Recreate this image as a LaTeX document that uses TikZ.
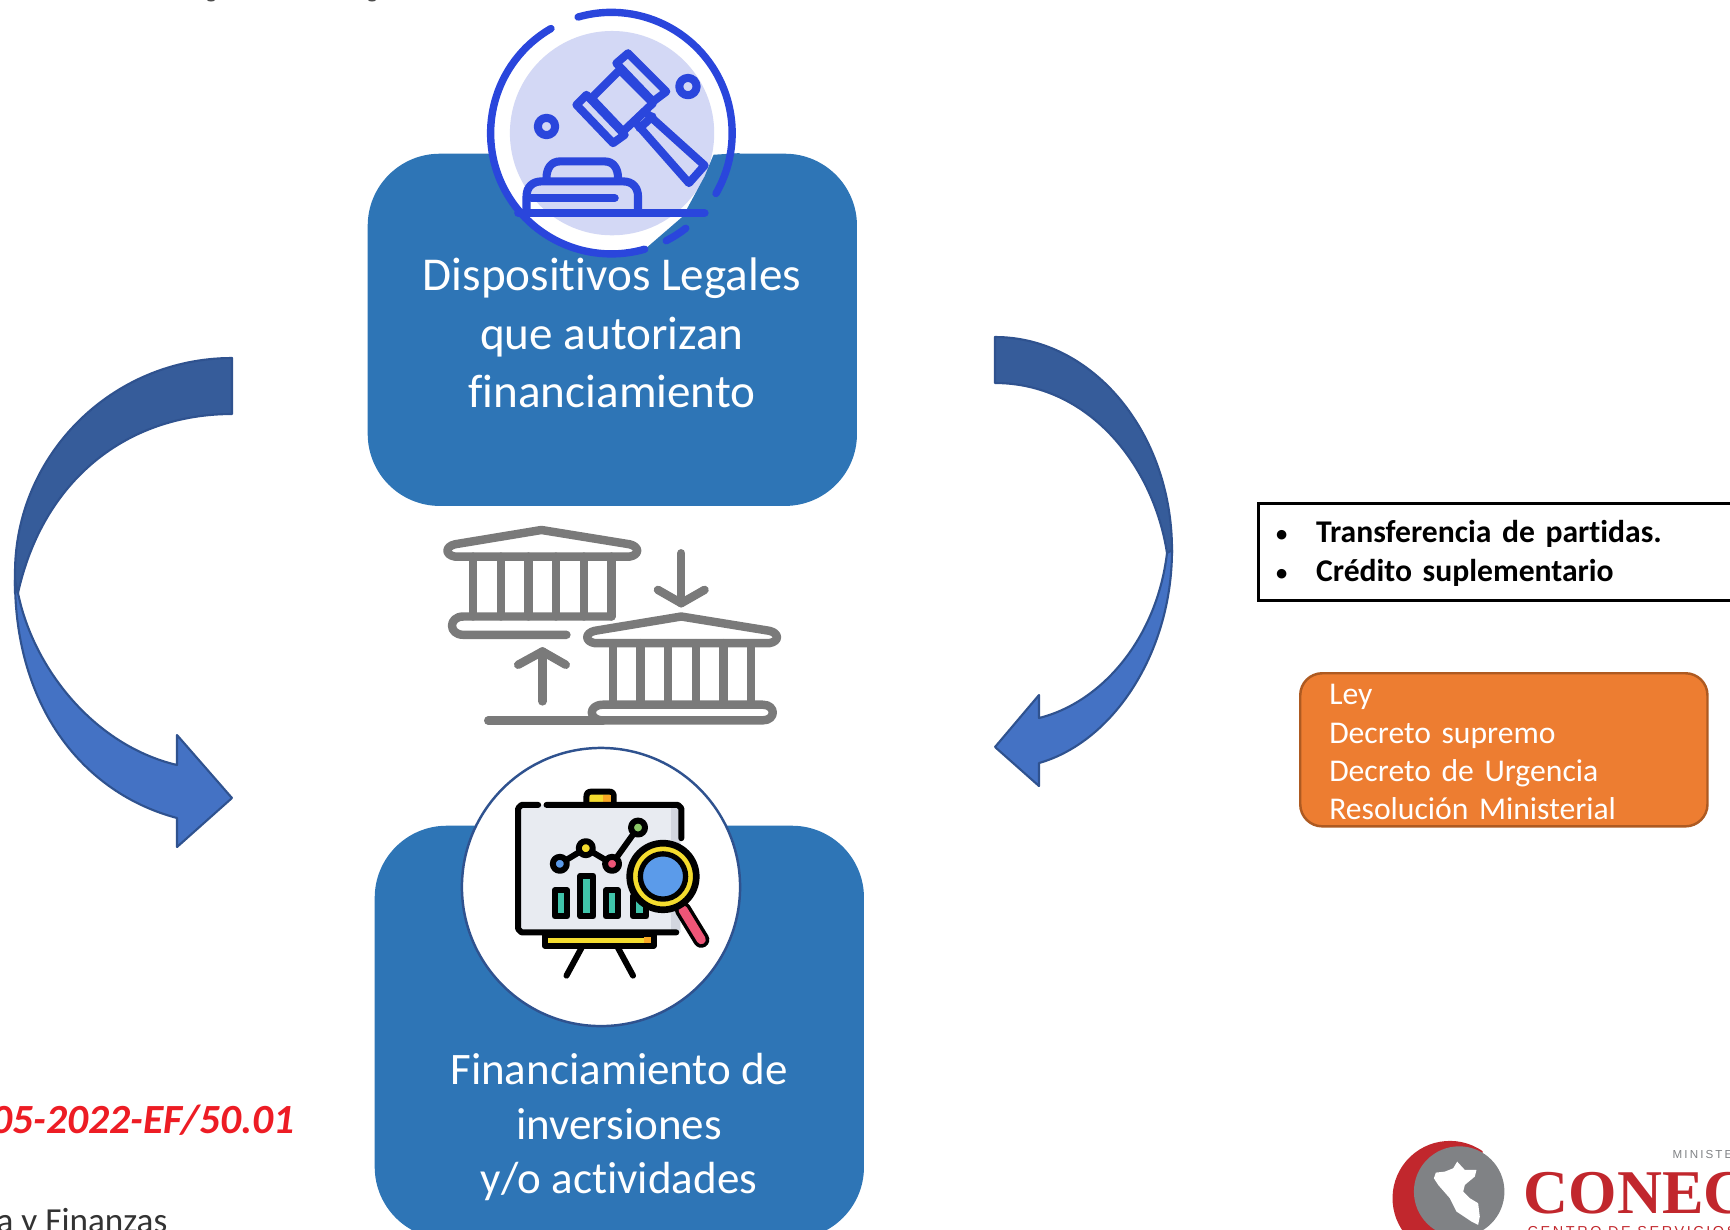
\documentclass[tikz,border=0pt]{standalone}
\usepackage{fontspec}
\setmainfont[Ligatures=NoCommon]{Carlito}
\newfontfamily\logoserif{Liberation Serif}
\newfontfamily\logosans[LetterSpace=18]{Liberation Sans}
\usetikzlibrary{positioning}

\definecolor{cajaazul}{HTML}{2E75B6}
\definecolor{flechaosc}{HTML}{365C9A}
\definecolor{flechacla}{HTML}{4472C4}
\definecolor{flechaborde}{HTML}{2F528F}
\definecolor{naranja}{HTML}{ED7D31}
\definecolor{naranjaborde}{HTML}{AE5A21}
\definecolor{mazoazul}{HTML}{2A46DC}
\definecolor{mazofondo}{HTML}{D3D8F5}
\definecolor{gris}{HTML}{7A7A7A}
\definecolor{rojologo}{HTML}{C1272D}
\definecolor{grislogo}{HTML}{808285}
\definecolor{rojonota}{HTML}{ED1C24}
\definecolor{amarillo}{HTML}{F4DC2E}
\definecolor{ambar}{HTML}{F9A825}
\definecolor{verdeazul}{HTML}{40C4AA}
\definecolor{rosa}{HTML}{EE5577}
\definecolor{lupa}{HTML}{5B9BEA}
\definecolor{pizarra}{HTML}{E8EBF1}
\definecolor{pizarrasom}{HTML}{D3D6DF}
\definecolor{verdepunto}{HTML}{8BC766}

\newcommand{\vineta}{\makebox[0.40cm][l]{\raisebox{0.3pt}{\fontsize{6.4}{11}\selectfont •}}}
\newcommand{\primera}{\rule{0pt}{7.1pt}}

\begin{document}
\begin{tikzpicture}[
    x=0.01cm, y=-0.01cm,
    caja/.style={
        rectangle,
        rounded corners=0.72cm,
        minimum width=4.89cm,
        fill=cajaazul
    },
    cajatexto/.style={
        text=white,
        align=center,
        font=\fontsize{13.4}{16.7}\selectfont
    },
    lista/.style={
        rectangle,
        draw=black,
        line width=0.9pt,
        anchor=north west,
        minimum width=4.95cm,
        minimum height=0.97cm,
        inner xsep=0.16cm,
        inner ysep=0pt,
        text width=4.6cm,
        align=left,
        font=\fontsize{9}{11}\selectfont\bfseries
    },
    normas/.style={
        rectangle,
        rounded corners=0.22cm,
        draw=naranjaborde,
        fill=naranja,
        line width=0.7pt,
        text=white,
        anchor=north west,
        minimum width=4.07cm,
        minimum height=1.53cm,
        inner xsep=0.29cm,
        inner ysep=0pt,
        text width=3.49cm,
        align=left,
        font=\fontsize{9}{10.85}\selectfont
    },
    flecha/.style={draw=flechaborde, line width=0.6pt, line join=round},
    anillo/.style={draw=mazoazul, line width=2.1pt, line cap=round},
    mazo/.style={draw=mazoazul, line width=2.3pt, line cap=round, line join=round},
    banco/.style={draw=gris, line width=2.4pt, line cap=round, line join=round},
    pizarron/.style={draw=black, line width=1.7pt, line cap=round, line join=round}
]
\useasboundingbox (0,0) rectangle (1730,1229);

% Cut off title
\fill [black!70] (211,0) ellipse [x radius=4, y radius=1.5];
\fill [black!70] (372,0) ellipse [x radius=4, y radius=1.5];

% Left arrow
\fill [flecha, fill=flechaosc] (232,358) .. controls (112,358) and (15,455) .. (15,573)
    -- (15,593) -- (18,593) .. controls (43,480) and (127,414) .. (232,414) -- cycle;
\fill [flecha, fill=flechacla] (15,580) .. controls (15,707) and (83,793) .. (177,818)
    -- (177,847) -- (232,798) -- (177,735) -- (177,765) .. controls (93,745) and (33,667) .. (18,593) -- cycle;

% Right arrow
\fill [flecha, fill=flechaosc] (995,337) .. controls (1093,337) and (1172,433) .. (1172,550)
    -- (1172,553) -- (1167,553) .. controls (1153,463) and (1087,383) .. (995,383) -- cycle;
\fill [flecha, fill=flechacla] (1172,550) .. controls (1172,653) and (1113,742) .. (1039,763)
    -- (1039,786) -- (995,747) -- (1039,695) -- (1039,718) .. controls (1103,702) and (1157,637) .. (1167,553) -- cycle;

% Top box
\node (legales) [caja, minimum height=3.52cm, anchor=north west] at (367,153) {};

% Gavel icon
\begin{scope}[shift={(440,0)}, x=0.003333cm, y=-0.003333cm]
\fill [white] (515,400) circle [radius=362];
\fill [mazofondo] (517,400) circle [radius=307];
\fill [cajaazul] (900,460) -- (822,465) -- (795,530) -- (730,650) -- (620,745) -- (640,800)
    -- (900,800) -- cycle;
\draw [anillo] (515,400) ++(106:1.207cm) arc [start angle=106, end angle=-30, radius=1.207cm];
\draw [anillo] (515,400) ++(120:1.207cm) arc [start angle=120, end angle=286, radius=1.207cm];
\draw [anillo] (515,400) ++(-63:1.207cm) arc [start angle=-63, end angle=-52, radius=1.207cm];
% head
\draw [mazo] (540,210) -- (640,310) -- (550,395) -- (455,295) -- cycle;
\draw [mazo] (565,160) -- (680,275) -- (640,305) -- (530,190) -- cycle;
\draw [mazo] (440,285) -- (555,405) -- (520,430) -- (410,315) -- cycle;
% handle
\draw [mazo] (615,335) -- (795,497) -- (748,550) -- (585,365) -- cycle;
\draw [mazo] (600,385) -- (638,350);
\draw [mazo] (745,260) circle [radius=26];
\draw [mazo] (320,380) circle [radius=26];
% block
\draw [mazo] (320,535) .. controls (320,505) and (335,485) .. (360,485) -- (495,485)
    .. controls (520,485) and (535,505) .. (535,535);
\draw [mazo] (260,635) -- (260,590) .. controls (260,560) and (280,545) .. (305,545)
    -- (550,545) .. controls (580,545) and (595,565) .. (595,590) -- (595,635);
\draw [mazo] (275,595) -- (525,595);
\draw [mazo] (235,640) -- (795,640);
\end{scope}

\node (legalestxt) [cajatexto] at (612,333) {Dispositivos Legales\\que autorizan\\financiamiento};

% Banks icon
\begin{scope}[shift={(420,510)}, x=0.003333cm, y=-0.003333cm]
\foreach \bx/\by in {0/0,420/260} {
    \begin{scope}[shift={(\bx,\by)}]
    \draw [banco] (105,140) .. controls (75,135) and (75,110) .. (105,103) -- (365,60) -- (630,103)
        .. controls (660,110) and (660,135) .. (630,140) -- cycle;
    \foreach \colx in {160,243,326,409,492,575}
        \draw [banco] (\colx,140) -- (\colx,320);
    \end{scope}
}
\draw [banco] (575,320) -- (130,320) .. controls (85,320) and (85,375) .. (130,375) -- (440,375);
\draw [banco] (1030,585) -- (550,585) .. controls (505,585) and (505,632) .. (550,632) -- (1030,632)
    .. controls (1070,632) and (1070,585) .. (1030,585);
\draw [banco] (205,633) -- (550,633);
\draw [banco] (785,130) -- (785,280);
\draw [banco] (715,240) -- (785,280) -- (855,240);
\draw [banco] (368,575) -- (368,425);
\draw [banco] (295,465) -- (368,425) -- (438,465);
\end{scope}

% Bottom box
\node (inversiones) [caja, minimum height=4.13cm, anchor=north west] at (374,825) {};
\node (circulo) [circle, draw=flechaborde, fill=white, line width=0.7pt, minimum size=2.78cm, inner sep=0pt] at (601,887) {};

% Chart icon
\begin{scope}[shift={(450,740)}, x=0.003333cm, y=-0.003333cm]
\draw [pizarron, fill=amarillo] (410,190) -- (410,170) .. controls (410,160) and (415,155) .. (425,155)
    -- (478,155) .. controls (488,155) and (492,160) .. (492,170) -- (492,190);
\fill [ambar] (460,166) rectangle (484,188);
\fill [pizarra] (205,195) rectangle (695,578);
\fill [pizarrasom] (665,200) rectangle (692,572);
\draw [pizarron] (265,195) -- (215,195) -- (205,205) -- (205,568) -- (215,578) -- (680,578);
\draw [pizarron] (290,195) -- (685,195) -- (695,205) -- (695,295);
\draw [pizarron, fill=amarillo] (285,585) rectangle (612,618);
\fill [ambar] (582,592) rectangle (605,611);
\draw [pizarron] (395,625) -- (350,708);
\draw [pizarron] (505,625) -- (550,708);
\draw [pizarron] (330,372) -- (408,325) -- (487,372) -- (565,263);
\draw [pizarron, fill=lupa] (330,372) circle [radius=21];
\draw [pizarron, fill=amarillo] (408,325) circle [radius=21];
\draw [pizarron, fill=rosa] (487,372) circle [radius=21];
\draw [pizarron, fill=verdepunto] (565,263) circle [radius=21];
\draw [pizarron, fill=verdeazul] (315,452) rectangle (352,530);
\draw [pizarron, fill=verdeazul] (392,408) rectangle (430,530);
\draw [pizarron, fill=verdeazul] (468,452) rectangle (505,530);
\draw [pizarron, fill=verdeazul] (550,470) rectangle (590,530);
\draw [draw=black, line cap=round, line width=4.6pt] (700,510) -- (755,600);
\draw [draw=rosa, line cap=round, line width=2.6pt] (700,510) -- (755,600);
\draw [pizarron, fill=amarillo, line width=1.9pt] (640,410) circle [radius=100];
\draw [pizarron, fill=lupa, line width=1.5pt] (640,410) circle [radius=68];
\end{scope}

\node (inversionestxt) [cajatexto, font=\fontsize{12.8}{15.6}\selectfont] at (619,1127) {Financiamiento de\\inversiones\\y/o actividades};

% Right column
\node (partidas) [lista] at (1257,502) {\primera\vineta Transferencia de partidas.\\\vineta Crédito suplementario};
\node (ley) [normas] at (1299,672) {\primera Ley\\Decreto supremo\\Decreto de Urgencia\\Resolución Ministerial};

% Bottom left notes
\node (oficio) [anchor=base east, inner sep=0pt, text=rojonota, font=\fontsize{11.8}{13}\selectfont\bfseries\itshape] at (295,1133) {05-2022-EF/50.01};
\node (ministerio) [anchor=base east, inner sep=0pt, text=black!80, font=\fontsize{10}{12}\selectfont] at (168,1232) {a y Finanzas};

% Logo
\begin{scope}[shift={(1350,1120)}, x=0.003333cm, y=-0.003333cm]
\fill [rojologo] (300,235) ++(55:0.573cm) arc [start angle=55, end angle=305, radius=0.573cm] -- cycle;
\fill [grislogo] (328,215) circle [radius=136];
\fill [white] (322,125) -- (345,150) -- (380,150) -- (375,170) -- (345,195) -- (340,215) -- (360,235)
    -- (385,250) -- (390,290) -- (385,315) -- (365,305) -- (320,275) -- (300,235) -- (265,195)
    -- (252,175) -- (258,158) -- (285,155) -- (310,145) -- cycle;
\end{scope}
\node (conec) [anchor=base west, inner sep=0pt, text=rojologo, font=\fontsize{17.7}{20}\logoserif\bfseries] at (1523,1213) {CONEC};
\node (ministe) [anchor=base west, inner sep=0pt, text=grislogo, font=\fontsize{3.3}{4}\logosans] at (1672,1158) {MINISTE};
\node (centro) [anchor=base west, inner sep=0pt, text=rojologo, font=\fontsize{4.1}{5}\logosans] at (1527,1236) {CENTRO DE SERVICIOS};
\end{tikzpicture}
\end{document}
